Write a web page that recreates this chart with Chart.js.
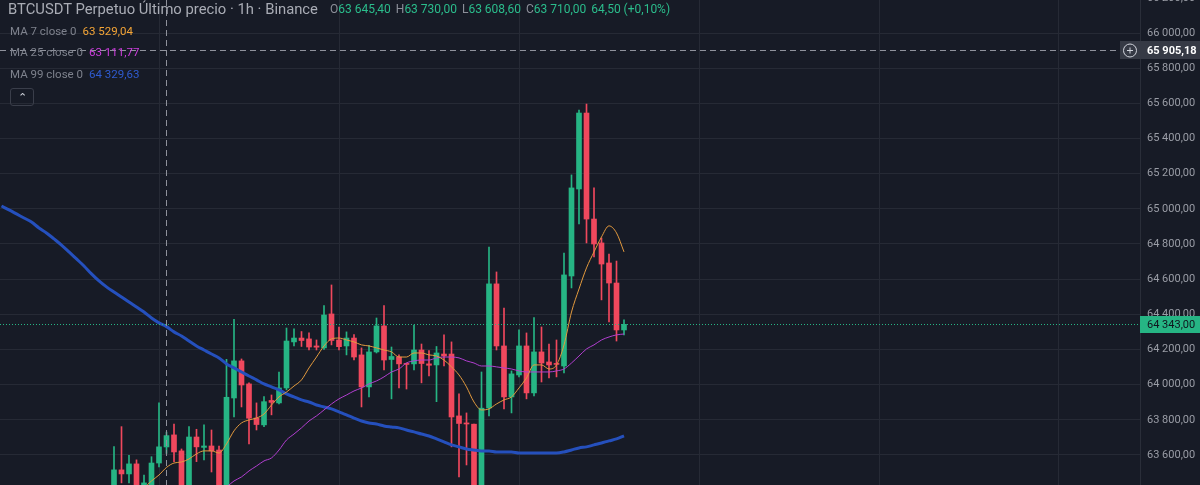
<!DOCTYPE html>
<html>
<head>
<meta charset="utf-8">
<script src="https://cdn.jsdelivr.net/npm/chart.js@4.4.1/dist/chart.umd.min.js"></script>
<style>
html, body { margin: 0; padding: 0; background: #171b26; overflow: hidden; }
#wrap { position: relative; width: 1200px; height: 485px; font-family: Roboto, "Noto Sans", sans-serif; }
#myChart { position: absolute; left: 0; top: 0; }
.row { position: absolute; white-space: nowrap; }
.title { left: 8px; top: 0; line-height: 19px; font-size: 14.8px; color: #a9acb5; }
.ohlc { left: 330px; top: 0; line-height: 19px; font-size: 12px; color: #8c8f99; }
.ohlc b { font-weight: normal; color: #2bbd8c; margin-right: 5px; }
.ma { left: 10px; font-size: 11.5px; line-height: 16px; color: #7e828d; }
.ma span { margin-left: 6px; }
#btn { position: absolute; left: 10px; top: 88px; width: 24px; height: 18px; border: 1px solid #3a3e4a; border-radius: 3px; box-sizing: border-box; color: #d1d4dc; font-size: 11px; text-align: center; line-height: 17px; }
</style>
</head>
<body>
<div id="wrap">
  <canvas id="myChart" width="1200" height="485"></canvas>
  <div class="row title">BTCUSDT Perpetuo Último precio · 1h · Binance</div>
  <div class="row ohlc" id="ohlc"></div>
  <div class="row ma" style="top:23px">MA 7 close 0<span id="ma7v" style="color:#f3a436"></span></div>
  <div class="row ma" style="top:44px">MA 25 close 0<span id="ma25v" style="color:#cf3fe0"></span></div>
  <div class="row ma" style="top:66px">MA 99 close 0<span id="ma99v" style="color:#2f5bd0"></span></div>
  <div id="btn">&#8963;</div>
</div>
<script>
// hourly candles, first visible one sits at slot 15
const firstCandle = 15;
const opens  = [63401, 63515, 63492, 63549, 63401, 63418, 63554, 63645.4, 63714, 63623, 63384, 63702, 63643, 63651, 63628, 63355, 63924, 64135, 64004, 63810, 63771, 63910, 63896, 63981, 64243, 64265, 64260, 64220, 64209, 64402, 64254, 64220, 64265, 64169, 63987, 64186, 64334, 64143, 64157, 64120, 64118, 64197, 64118, 64112, 64174, 64174, 63822, 63782, 63775, 63327, 63867, 64573, 64220, 63930, 64055, 64220, 63953, 64186, 64129, 64120, 64106, 64618, 65113, 65545, 64942, 64806, 64692, 64578, 64311];
const highs  = [63647, 63761, 63598, 63572, 63486, 63590, 63896, 63730, 63776, 63634, 63761, 63746, 63771, 63742, 63651, 64144, 64372, 64146, 64010, 63896, 63932, 63941, 64072, 64322, 64317, 64302, 64294, 64254, 64450, 64567, 64328, 64300, 64285, 64209, 64223, 64379, 64450, 64214, 64169, 64123, 64339, 64231, 64194, 64217, 64283, 64243, 63947, 63839, 63776, 64072, 64783, 64641, 64436, 64078, 64311, 64294, 64382, 64328, 64231, 64254, 64749, 65193, 65562, 65596, 65119, 64834, 64743, 64703, 64368];
const lows   = [63344, 63441, 63441, 63344, 63344, 63372, 63532, 63608.6, 63562, 63316, 63344, 63562, 63572, 63503, 63287, 63316, 63816, 63873, 63663, 63742, 63761, 63828, 63890, 63970, 64220, 64217, 64197, 64197, 64200, 64226, 64197, 64169, 64140, 63873, 63930, 64180, 64083, 63919, 63981, 63975, 64083, 64010, 64049, 63903, 64106, 63646, 63475, 63543, 63259, 63259, 63822, 64197, 63862, 63839, 64044, 63919, 63936, 64015, 64038, 64044, 64066, 64550, 64914, 64806, 64726, 64482, 64356, 64248, 64283];
const closes = [63515, 63492, 63549, 63390, 63441, 63554, 63646, 63710, 63617, 63372, 63702, 63646, 63651, 63623, 63344, 63928, 64135, 63998, 63809, 63773, 63903, 63899, 63981, 64248, 64265, 64251, 64214, 64213, 64396, 64251, 64216, 64265, 64157, 63987, 64186, 64334, 64140, 64160, 64118, 64115, 64197, 64120, 64110, 64180, 64163, 63816, 63779, 63776, 63316, 63866, 64573, 64220, 63930, 64061, 64220, 63953, 64186, 64123, 64112, 64115, 64624, 65119, 65545, 64942, 64800, 64686, 64578, 64311, 64343];

// moving averages (per candle, null = off screen)
const ma7  = [null, null, null, 63370, 63412, 63452, 63486, 63529, 63554, 63560, 63577, 63606, 63623, 63623, 63611, 63663, 63737, 63782, 63799, 63810, 63833, 63884, 63930, 63958, 63992, 64027, 64095, 64157, 64220, 64260, 64265, 64254, 64243, 64226, 64220, 64209, 64197, 64186, 64157, 64157, 64180, 64180, 64169, 64163, 64140, 64101, 64055, 63987, 63901, 63856, 63862, 63890, 63913, 63930, 63981, 64038, 64112, 64112, 64089, 64112, 64226, 64413, 64544, 64664, 64755, 64840, 64903, 64863, 64755];
const ma25 = [null, null, null, null, null, null, null, null, null, null, null, null, null, null, 63390, 63418, 63452, 63475, 63509, 63537, 63566, 63583, 63628, 63685, 63719, 63754, 63793, 63822, 63856, 63890, 63919, 63941, 63964, 63981, 64004, 64021, 64044, 64072, 64089, 64123, 64135, 64140, 64140, 64152, 64157, 64157, 64152, 64135, 64123, 64106, 64106, 64101, 64095, 64089, 64078, 64072, 64072, 64072, 64072, 64078, 64089, 64123, 64163, 64203, 64226, 64254, 64271, 64283, 64288];
// MA 99 per slot, from the left edge (slot 0)
const ma99 = [65016, 64994, 64971, 64948, 64925, 64891, 64863, 64829, 64794, 64755, 64715, 64675, 64630, 64590, 64556, 64527, 64499, 64470, 64442, 64413, 64379, 64351, 64330, 64300, 64277, 64248, 64220, 64197, 64174, 64152, 64118, 64095, 64072, 64049, 64027, 64004, 63987, 63970, 63947, 63930, 63913, 63901, 63884, 63873, 63862, 63845, 63828, 63810, 63793, 63782, 63776, 63765, 63759, 63754, 63742, 63731, 63719, 63708, 63691, 63674, 63657, 63646, 63634, 63628, 63623, 63623, 63617, 63617, 63617, 63611, 63611, 63611, 63611, 63611, 63611, 63617, 63628, 63640, 63646, 63657, 63668, 63680, 63691, 63708];

const yTicks = [63600, 63800, 64000, 64200, 64400, 64600, 64800, 65000, 65200, 65400, 65600, 65800, 66000, 66200];
const dayLines = [21, 45, 69, 93, 117, 141];

const crossCandle = 7;        // candle under the crosshair
const crossPrice = 65905.18;
const legendChange = '64,50 (+0,10%)';
const maLegend = [63529.04, 63111.77, 64329.63];

const upColor = '#26b584';
const downColor = '#f0485d';

function fmt(v) {
  const [i, d] = v.toFixed(2).split('.');
  return i.replace(/\B(?=(\d{3})+(?!\d))/g, ' ') + ',' + d;
}

// legend texts
const c = crossCandle;
document.getElementById('ohlc').innerHTML =
  'O<b>' + fmt(opens[c]) + '</b>H<b>' + fmt(highs[c]) + '</b>L<b>' + fmt(lows[c]) +
  '</b>C<b>' + fmt(closes[c]) + '</b><b>' + legendChange + '</b>';
document.getElementById('ma7v').textContent = fmt(maLegend[0]);
document.getElementById('ma25v').textContent = fmt(maLegend[1]);
document.getElementById('ma99v').textContent = fmt(maLegend[2]);

const candleColors = opens.map((o, i) => closes[i] >= o ? upColor : downColor);
const lastPrice = closes[closes.length - 1];

const overlay = {
  id: 'overlay',
  afterDatasetsDraw(chart) {
    const { ctx, chartArea: a, scales: { x, y } } = chart;
    ctx.save();
    const ly = Math.round(y.getPixelForValue(lastPrice)) + 0.5;
    ctx.lineWidth = 1;
    ctx.strokeStyle = upColor;
    ctx.setLineDash([1, 2]);
    ctx.beginPath(); ctx.moveTo(a.left, ly); ctx.lineTo(a.right, ly); ctx.stroke();

    ctx.strokeStyle = '#8f929c';
    ctx.setLineDash([6, 4]);
    const cx = Math.round(x.getPixelForValue(firstCandle + crossCandle)) + 0.5;
    const cy = Math.round(y.getPixelForValue(crossPrice)) + 0.5;
    ctx.beginPath(); ctx.moveTo(cx, a.top); ctx.lineTo(cx, a.bottom); ctx.stroke();
    ctx.beginPath(); ctx.moveTo(a.left, cy); ctx.lineTo(a.right - 20, cy); ctx.stroke();
    ctx.restore();
  },
  afterDraw(chart) {
    const { ctx, chartArea: a, scales: { y } } = chart;
    ctx.save();
    ctx.font = '11px Roboto';
    ctx.textBaseline = 'middle';
    // last price tag
    const ly = Math.round(y.getPixelForValue(lastPrice));
    ctx.fillStyle = upColor;
    ctx.fillRect(a.right, ly - 8, 60, 17);
    ctx.fillStyle = '#10141d';
    ctx.fillText(fmt(lastPrice), a.right + 7, ly + 1);
    // crosshair tag
    const cy = Math.round(y.getPixelForValue(crossPrice));
    ctx.fillStyle = '#363a45';
    ctx.fillRect(a.right - 20, cy - 9, 80, 18);
    ctx.strokeStyle = '#d1d4dc';
    ctx.lineWidth = 1;
    ctx.beginPath(); ctx.arc(a.right - 10, cy + 0.5, 6.5, 0, Math.PI * 2); ctx.stroke();
    ctx.beginPath();
    ctx.moveTo(a.right - 13, cy + 0.5); ctx.lineTo(a.right - 7, cy + 0.5);
    ctx.moveTo(a.right - 10, cy - 2.5); ctx.lineTo(a.right - 10, cy + 3.5);
    ctx.stroke();
    ctx.fillStyle = '#ffffff';
    ctx.font = 'bold 11px Roboto';
    ctx.fillText(fmt(crossPrice), a.right + 7, cy + 1);
    ctx.restore();
  }
};

const ctx = document.getElementById('myChart');

new Chart(ctx, {
  type: 'bar',
  data: {
    datasets: [
      {
        type: 'line',
        label: 'MA 7',
        data: ma7.map((v, i) => ({ x: firstCandle + i, y: v })),
        borderColor: '#e39a3e',
        borderWidth: 1,
        pointRadius: 0,
        cubicInterpolationMode: 'monotone',
        order: 0
      },
      {
        type: 'line',
        label: 'MA 25',
        data: ma25.map((v, i) => ({ x: firstCandle + i, y: v })),
        borderColor: '#b23fd0',
        borderWidth: 1,
        pointRadius: 0,
        cubicInterpolationMode: 'monotone',
        order: 0
      },
      {
        type: 'line',
        label: 'MA 99',
        data: ma99.map((v, i) => ({ x: i, y: v })),
        borderColor: '#2550bd',
        borderWidth: 3,
        pointRadius: 0,
        cubicInterpolationMode: 'monotone',
        order: 0
      },
      {
        label: 'wick',
        data: opens.map((o, i) => ({ x: firstCandle + i, y: [lows[i], highs[i]] })),
        backgroundColor: candleColors,
        barThickness: 1,
        grouped: false,
        order: 2
      },
      {
        label: 'body',
        data: opens.map((o, i) => ({ x: firstCandle + i, y: [o, closes[i]] })),
        backgroundColor: candleColors,
        barThickness: 5,
        minBarLength: 1,
        grouped: false,
        order: 1
      }
    ]
  },
  options: {
    responsive: false,
    animation: false,
    events: [],
    layout: { padding: 0 },
    plugins: { legend: { display: false }, tooltip: { enabled: false } },
    scales: {
      x: {
        type: 'linear',
        min: -0.2,
        max: 151.8,
        offset: false,
        grid: { color: '#262a35', drawTicks: false, offset: false },
        border: { display: false },
        ticks: { display: false },
        afterBuildTicks: s => { s.ticks = dayLines.map(v => ({ value: v })); },
        afterFit: s => { s.height = 0; s.paddingLeft = 0; s.paddingRight = 0; }
      },
      y: {
        position: 'right',
        min: 63429,
        max: 66188,
        grid: { color: '#262a35', drawTicks: false },
        border: { color: '#2a2e39' },
        ticks: {
          color: '#9a9da6',
          font: { family: 'Roboto', size: 11 },
          padding: 7,
          autoSkip: false,
          callback: v => fmt(v)
        },
        afterBuildTicks: s => { s.ticks = yTicks.map(v => ({ value: v })); },
        afterFit: s => { s.width = 60; s.paddingTop = 0; s.paddingBottom = 0; }
      }
    }
  },
  plugins: [overlay]
});
</script>
</body>
</html>
